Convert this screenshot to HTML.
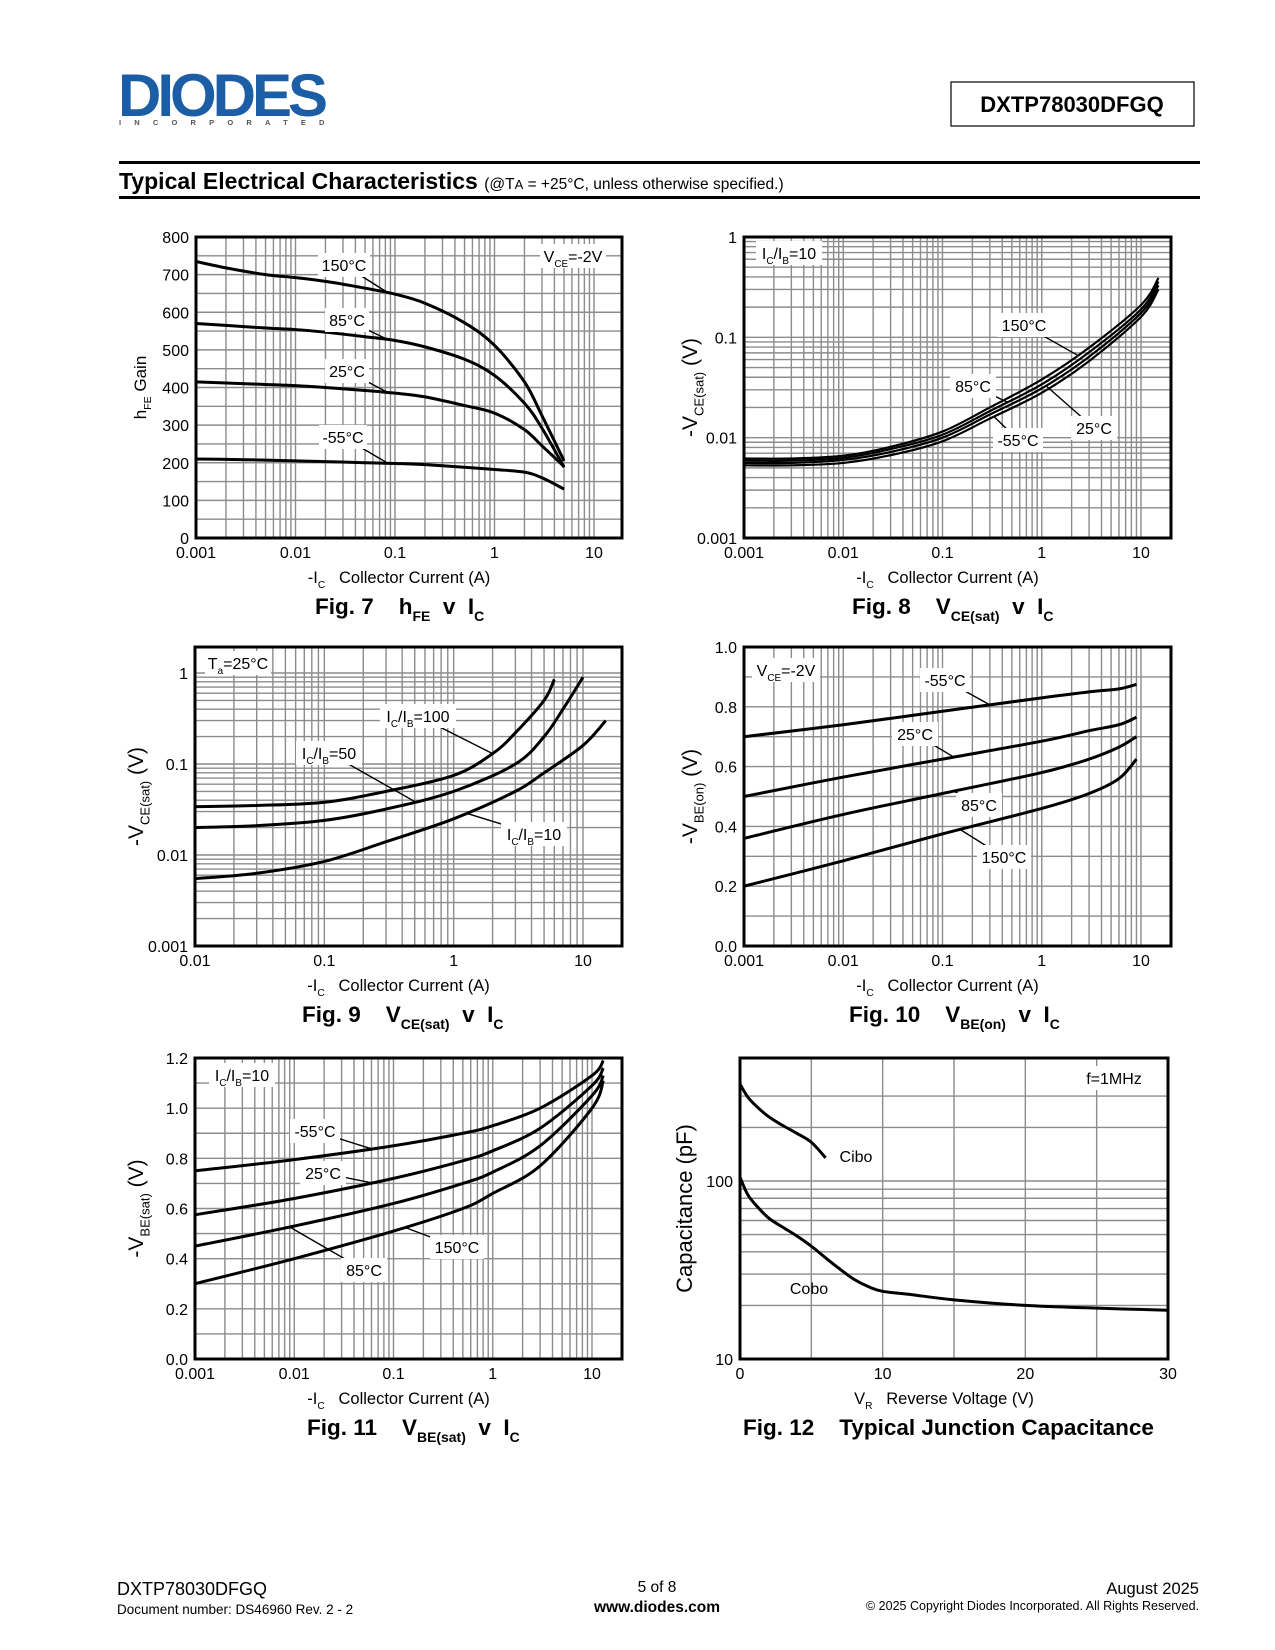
<!DOCTYPE html>
<html><head><meta charset="utf-8"><title>DXTP78030DFGQ Typical Electrical Characteristics</title>
<style>
html,body{margin:0;padding:0;background:#fff;}
svg{display:block;font-family:"Liberation Sans",Arial,sans-serif;}
text{white-space:pre;}
</style></head>
<body>
<svg id="page" width="1275" height="1650" viewBox="0 0 1275 1650" xmlns="http://www.w3.org/2000/svg">
  <g>
    <text x="118" y="116" font-size="60" font-weight="bold" fill="#1c5ea5" letter-spacing="-4">DIODES</text>
    <text x="119" y="125" font-size="7.5" font-weight="bold" fill="#555" letter-spacing="13.2">INCORPORATED</text>
    <rect x="951" y="82" width="243" height="44" fill="none" stroke="#000" stroke-width="1.2"/>
    <text x="1072" y="112" font-size="22" font-weight="bold" text-anchor="middle">DXTP78030DFGQ</text>
    <rect x="119" y="161" width="1081" height="3" fill="#000"/>
    <text x="119" y="189" font-size="23" font-weight="bold">Typical Electrical Characteristics <tspan font-size="15.5" font-weight="normal">(@T<tspan font-size="13">A</tspan> = +25°C, unless otherwise specified.)</tspan></text>
    <rect x="119" y="196" width="1081" height="3" fill="#000"/>
  </g>
  <g id="charts"></g>
  <g>
    <text x="117" y="1595" font-size="18">DXTP78030DFGQ</text>
    <text x="117" y="1614" font-size="13.5">Document number: DS46960 Rev. 2 - 2</text>
    <text x="657" y="1592" font-size="15.5" text-anchor="middle">5 of 8</text>
    <text x="657" y="1612" font-size="15.5" font-weight="bold" text-anchor="middle">www.diodes.com</text>
    <text x="1199" y="1594" font-size="16.5" text-anchor="end">August 2025</text>
    <text x="1199" y="1610" font-size="12.5" text-anchor="end">© 2025 Copyright Diodes Incorporated. All Rights Reserved.</text>
  </g>
</svg>
<script>
// ---------- Fig 7 data: hFE vs Ic ----------
const fig7X = [0.001,0.002,0.005,0.01,0.02,0.05,0.1,0.2,0.5,1,2,3,5];
const fig7Y150 = [735,718,700,692,682,664,648,624,572,512,415,325,205];
const fig7Y85 = [570,565,558,554,547,535,525,508,475,432,358,292,188];
const fig7Y25 = [415,412,408,405,400,392,385,375,352,332,288,245,190];
const fig7Yneg55 = [210,209,207,205,203,200,198,195,188,182,175,160,130];
const fig7YTicks = [0,100,200,300,400,500,600,700,800];
const fig7XTicks = [0.001,0.01,0.1,1,10];
const fig7XTickLabels = ["0.001","0.01","0.1","1","10"];
// ---------- Fig 8 data: VCE(sat) vs Ic at various temps ----------
const fig8X = [0.001,0.003,0.01,0.03,0.1,0.3,1,3,10,15];
const fig8Y150 = [0.0062,0.0062,0.0066,0.0081,0.0115,0.0200,0.038,0.079,0.21,0.39];
const fig8Y85 = [0.0059,0.0059,0.0063,0.0077,0.0107,0.0184,0.034,0.071,0.19,0.36];
const fig8Y25 = [0.0056,0.0056,0.0060,0.0072,0.0100,0.0170,0.031,0.064,0.175,0.33];
const fig8Yneg55 = [0.0053,0.0053,0.0056,0.0067,0.0092,0.0155,0.028,0.058,0.16,0.30];
const fig8YTicks = [0.001,0.01,0.1,1];
const fig8YTickLabels = ["0.001","0.01","0.1","1"];
const fig8XTicks = [0.001,0.01,0.1,1,10];
const fig8XTickLabels = ["0.001","0.01","0.1","1","10"];
// ---------- Fig 9 data: VCE(sat) vs Ic at various Ic/Ib ----------
const fig9X100 = [0.01,0.03,0.1,0.3,1,2,3,5,6];
const fig9Y100 = [0.034,0.035,0.038,0.050,0.075,0.13,0.22,0.50,0.85];
const fig9X50 = [0.01,0.03,0.1,0.3,1,3,5,7,10];
const fig9Y50 = [0.020,0.021,0.024,0.032,0.050,0.10,0.20,0.40,0.90];
const fig9X10 = [0.01,0.03,0.1,0.3,1,3,5,10,15];
const fig9Y10 = [0.0055,0.0063,0.0085,0.014,0.025,0.050,0.080,0.16,0.30];
const fig9YTicks = [0.001,0.01,0.1,1];
const fig9YTickLabels = ["0.001","0.01","0.1","1"];
const fig9XTicks = [0.01,0.1,1,10];
const fig9XTickLabels = ["0.01","0.1","1","10"];
// ---------- Fig 10 data: VBE(on) vs Ic ----------
const fig10X = [0.001,0.01,0.1,1,3,6,9];
const fig10Yneg55 = [0.70,0.74,0.785,0.83,0.85,0.86,0.875];
const fig10Y25 = [0.50,0.565,0.625,0.685,0.72,0.74,0.765];
const fig10Y85 = [0.36,0.44,0.51,0.58,0.625,0.665,0.70];
const fig10Y150 = [0.20,0.285,0.375,0.46,0.51,0.56,0.625];
const fig10YTicks = [0,0.2,0.4,0.6,0.8,1.0];
const fig10YTickLabels = ["0.0","0.2","0.4","0.6","0.8","1.0"];
const fig10XTicks = [0.001,0.01,0.1,1,10];
const fig10XTickLabels = ["0.001","0.01","0.1","1","10"];
// ---------- Fig 11 data: VBE(sat) vs Ic ----------
const fig11X = [0.001,0.01,0.1,0.5,1,3,10,13];
const fig11Yneg55 = [0.75,0.795,0.85,0.90,0.93,1.00,1.13,1.19];
const fig11Y25 = [0.575,0.64,0.72,0.79,0.83,0.92,1.09,1.16];
const fig11Y85 = [0.45,0.53,0.62,0.70,0.745,0.85,1.05,1.13];
const fig11Y150 = [0.30,0.40,0.51,0.60,0.66,0.77,1.00,1.11];
const fig11YTicks = [0,0.2,0.4,0.6,0.8,1.0,1.2];
const fig11YTickLabels = ["0.0","0.2","0.4","0.6","0.8","1.0","1.2"];
const fig11XTicks = [0.001,0.01,0.1,1,10];
const fig11XTickLabels = ["0.001","0.01","0.1","1","10"];
// ---------- Fig 12 data: capacitance vs VR ----------
const fig12CiboX = [0,0.5,1,2,3,4,5,6];
const fig12CiboY = [350,300,270,230,205,185,165,135];
const fig12CoboX = [0,0.5,1,2,3,4,5,6,7,8,9,10,12,15,20,25,30];
const fig12CoboY = [105,85,75,62,55,49,43,37,32,28,25.5,24,23,21.5,20,19.3,18.8];
const fig12YTicks = [10,100];
const fig12YTickLabels = ["10","100"];
const fig12XTicks = [0,10,20,30];
const fig12XTickLabels = ["0","10","20","30"];

const NS = "http://www.w3.org/2000/svg";
const root = document.getElementById('charts');
function mk(tag, attrs, parent){
  const e = document.createElementNS(NS, tag);
  for (const k in attrs) e.setAttribute(k, attrs[k]);
  (parent||root).appendChild(e);
  return e;
}
function logScale(d0,d1,p0,p1){const a=Math.log10(d0),b=Math.log10(d1);return v=>p0+(Math.log10(v)-a)/(b-a)*(p1-p0);}
function linScale(d0,d1,p0,p1){return v=>p0+(v-d0)/(d1-d0)*(p1-p0);}
function logGrid(lo,hi){const out=[];for(let n=-4;n<=3;n++){for(let k=1;k<10;k++){const v=k*Math.pow(10,n);if(v>=lo*0.999&&v<=hi*1.001)out.push(v);}}return out;}
function richText(parent, parts, x, y, size, attrs){
  const t = mk('text', Object.assign({x:x, y:y, 'font-size':size}, attrs||{}), parent);
  let sub=false;
  parts.forEach(p=>{
    const ts = mk('tspan', {}, t);
    if (p[1] && !sub){ts.setAttribute('dy', size*0.3); ts.setAttribute('font-size', size*0.62); sub=true;}
    else if (!p[1] && sub){ts.setAttribute('dy', -size*0.3); sub=false;}
    ts.textContent = p[0];
  });
  return t;
}
function smoothPath(pts){
  let d = 'M'+pts[0][0].toFixed(2)+','+pts[0][1].toFixed(2);
  for (let i=0;i<pts.length-1;i++){
    const p0=pts[Math.max(0,i-1)],p1=pts[i],p2=pts[i+1],p3=pts[Math.min(pts.length-1,i+2)];
    const c1=[p1[0]+(p2[0]-p0[0])/6,p1[1]+(p2[1]-p0[1])/6];
    const c2=[p2[0]-(p3[0]-p1[0])/6,p2[1]-(p3[1]-p1[1])/6];
    d+=' C'+c1[0].toFixed(2)+','+c1[1].toFixed(2)+' '+c2[0].toFixed(2)+','+c2[1].toFixed(2)+' '+p2[0].toFixed(2)+','+p2[1].toFixed(2);
  }
  return d;
}
function chart(c){
  const g = mk('g', {});
  
  
  const cid = c.name+'-clip';
  const cp = mk('clipPath', {id:cid}, g);
  mk('rect', {x:c.L, y:c.T, width:c.R-c.L, height:c.B-c.T}, cp);
  const grid = mk('g', {stroke:'#8c8c8c','stroke-width':1.4}, g);
  
  
  c.xgrid.forEach(v=>{const x=c.xs(v); if(x>c.L+1&&x<c.R-1) mk('line',{x1:x,x2:x,y1:c.T,y2:c.B},grid);});
  c.ygrid.forEach(v=>{const y=c.ys(v); if(y>c.T+1&&y<c.B-1) mk('line',{x1:c.L,x2:c.R,y1:y,y2:y},grid);});
  const sg = mk('g', {'clip-path':'url(#'+cid+')'}, g);
  const pix = [];
  c.series.forEach(s=>{
    const pts = s.x.map((xv,i)=>[c.xs(xv), c.ys(s.y[i])]);
    pix.push(pts);
    const p = mk('path', {d:smoothPath(pts), fill:'none', stroke:'#000', 'stroke-width':c.sw||3, 'stroke-linejoin':'round'}, sg);
    
    
  });
  c.labels.forEach(lb=>{
    const lg = mk('g', {}, g);
    
    
    if (lb.s !== undefined){
      const pts = pix[lb.s]; const tx = c.xs(lb.tx); let ty = pts[0][1];
      for (let i=0;i<pts.length-1;i++){ if (tx>=pts[i][0] && tx<=pts[i+1][0]){ const f=(tx-pts[i][0])/(pts[i+1][0]-pts[i][0]); ty=pts[i][1]+f*(pts[i+1][1]-pts[i][1]); } }
      mk('line', {x1:lb.cx, y1:lb.cy, x2:tx, y2:ty, stroke:'#000', 'stroke-width':1.4}, lg);
    }
    if (lb.w) mk('rect', {x:lb.cx-lb.w/2, y:lb.cy-12, width:lb.w, height:24, fill:'#fff'}, lg);
    richText(lg, lb.parts, lb.cx, lb.cy+6, 16, {'text-anchor':'middle'});
  });
  const fr = mk('rect', {x:c.L, y:c.T, width:c.R-c.L, height:c.B-c.T, fill:'none', stroke:'#000', 'stroke-width':3}, g);
  
  
  const yt = mk('g', {'font-size':16, 'text-anchor':'end'}, g);
  
  
  c.yticks.forEach((v,i)=>{ const t=mk('text',{x:c.L-7, y:c.ys(v)+6}, yt); t.textContent=c.ytl[i]; });
  const xt = mk('g', {'font-size':16, 'text-anchor':'middle'}, g);
  
  
  c.xticks.forEach((v,i)=>{ const t=mk('text',{x:c.xs(v), y:c.B+20}, xt); t.textContent=c.xtl[i]; });
  const ya = richText(g, c.ytitle, 0, 0, c.ytSize||17, {'text-anchor':'middle', transform:'translate('+c.ytx+','+((c.T+c.B)/2)+') rotate(-90)'});
  
  
  const xa = richText(g, c.xtitle, (c.L+c.R)/2-10, c.B+45, 16.5, {'text-anchor':'middle'});
  
  
  const cap = richText(g, c.caption, c.capX, c.B+76, 22.5, {'font-weight':'bold'});
  
  
}
const icTitle = [["-I",0],["C",1],["   Collector Current (A)",0]];

// Fig 7
(function(){
  const xs=logScale(0.001,10,196,594), ys=linScale(0,800,538,237);
  const yg=[]; for(let v=0;v<=800;v+=50) yg.push(v);
  chart({name:'fig7-hfe-chart',L:196,R:622,T:237,B:538,xs,ys,xgrid:logGrid(0.001,30),ygrid:yg,
    xticks:fig7XTicks,xtl:fig7XTickLabels,yticks:fig7YTicks,ytl:fig7YTicks.map(String),
    series:[{name:'hfe-150c',x:fig7X,y:fig7Y150},{name:'hfe-85c',x:fig7X,y:fig7Y85},{name:'hfe-25c',x:fig7X,y:fig7Y25},{name:'hfe-minus55c',x:fig7X,y:fig7Yneg55}],
    labels:[
      {name:'label-150c',parts:[["150°C",0]],cx:344,cy:265,w:52,s:0,tx:0.085},
      {name:'label-85c',parts:[["85°C",0]],cx:347,cy:320,w:44,s:1,tx:0.085},
      {name:'label-25c',parts:[["25°C",0]],cx:347,cy:371,w:44,s:2,tx:0.085},
      {name:'label-minus55c',parts:[["-55°C",0]],cx:343,cy:437,w:48,s:3,tx:0.085},
      {name:'label-vce',parts:[["V",0],["CE",1],["=-2V",0]],cx:573,cy:256,w:66}],
    ytitle:[["h",0],["FE",1],[" Gain",0]],ytx:146,xtitle:icTitle,
    caption:[["Fig. 7    h",0],["FE",1],["  v  I",0],["C",1]],capX:315});
})();
// Fig 8
(function(){
  const xs=logScale(0.001,10,744,1141), ys=logScale(0.001,1,538,237);
  chart({name:'fig8-vcesat-temp-chart',L:744,R:1171,T:237,B:538,xs,ys,xgrid:logGrid(0.001,30),ygrid:logGrid(0.001,1),sw:2.2,
    xticks:fig8XTicks,xtl:fig8XTickLabels,yticks:fig8YTicks,ytl:fig8YTickLabels,
    series:[{name:'vcesat-150c',x:fig8X,y:fig8Y150},{name:'vcesat-85c',x:fig8X,y:fig8Y85},{name:'vcesat-25c',x:fig8X,y:fig8Y25},{name:'vcesat-minus55c',x:fig8X,y:fig8Yneg55}],
    labels:[
      {name:'label-icib10',parts:[["I",0],["C",1],["/I",0],["B",1],["=10",0]],cx:789,cy:253,w:66},
      {name:'label-150c',parts:[["150°C",0]],cx:1024,cy:325,w:54,s:0,tx:2.3},
      {name:'label-85c',parts:[["85°C",0]],cx:973,cy:386,w:46,s:1,tx:0.45},
      {name:'label-25c',parts:[["25°C",0]],cx:1094,cy:428,w:46,s:2,tx:1.1},
      {name:'label-minus55c',parts:[["-55°C",0]],cx:1018,cy:440,w:50,s:3,tx:0.33}],
    ytitle:[["-V",0],["CE(sat)",1],[" (V)",0]],ytSize:21,ytx:697,xtitle:icTitle,
    caption:[["Fig. 8    V",0],["CE(sat)",1],["  v  I",0],["C",1]],capX:852});
})();
// Fig 9
(function(){
  const xs=logScale(0.01,10,195,583), ys=logScale(0.001,1,946,673);
  chart({name:'fig9-vcesat-ratio-chart',L:195,R:622,T:647,B:946,xs,ys,xgrid:logGrid(0.01,30),ygrid:logGrid(0.001,2),
    xticks:fig9XTicks,xtl:fig9XTickLabels,yticks:fig9YTicks,ytl:fig9YTickLabels,
    series:[{name:'vcesat-icib100',x:fig9X100,y:fig9Y100},{name:'vcesat-icib50',x:fig9X50,y:fig9Y50},{name:'vcesat-icib10',x:fig9X10,y:fig9Y10}],
    labels:[
      {name:'label-ta',parts:[["T",0],["a",1],["=25°C",0]],cx:238,cy:663,w:66},
      {name:'label-icib100',parts:[["I",0],["C",1],["/I",0],["B",1],["=100",0]],cx:418,cy:716,w:76,s:0,tx:2},
      {name:'label-icib50',parts:[["I",0],["C",1],["/I",0],["B",1],["=50",0]],cx:329,cy:753,w:66,s:1,tx:0.5},
      {name:'label-icib10',parts:[["I",0],["C",1],["/I",0],["B",1],["=10",0]],cx:534,cy:834,w:66,s:2,tx:1.25}],
    ytitle:[["-V",0],["CE(sat)",1],[" (V)",0]],ytSize:21,ytx:143,xtitle:icTitle,
    caption:[["Fig. 9    V",0],["CE(sat)",1],["  v  I",0],["C",1]],capX:302});
})();
// Fig 10
(function(){
  const xs=logScale(0.001,10,744,1141), ys=linScale(0,1,946,647);
  const yg=[]; for(let i=0;i<=10;i++) yg.push(i/10);
  chart({name:'fig10-vbeon-chart',L:744,R:1171,T:647,B:946,xs,ys,xgrid:logGrid(0.001,30),ygrid:yg,
    xticks:fig10XTicks,xtl:fig10XTickLabels,yticks:fig10YTicks,ytl:fig10YTickLabels,
    series:[{name:'vbeon-minus55c',x:fig10X,y:fig10Yneg55},{name:'vbeon-25c',x:fig10X,y:fig10Y25},{name:'vbeon-85c',x:fig10X,y:fig10Y85},{name:'vbeon-150c',x:fig10X,y:fig10Y150}],
    labels:[
      {name:'label-vce',parts:[["V",0],["CE",1],["=-2V",0]],cx:786,cy:670,w:68},
      {name:'label-minus55c',parts:[["-55°C",0]],cx:945,cy:680,w:50,s:0,tx:0.3},
      {name:'label-25c',parts:[["25°C",0]],cx:915,cy:734,w:46,s:1,tx:0.13},
      {name:'label-85c',parts:[["85°C",0]],cx:979,cy:805,w:46,s:2,tx:0.13},
      {name:'label-150c',parts:[["150°C",0]],cx:1004,cy:857,w:54,s:3,tx:0.15}],
    ytitle:[["-V",0],["BE(on)",1],[" (V)",0]],ytSize:21,ytx:697,xtitle:icTitle,
    caption:[["Fig. 10    V",0],["BE(on)",1],["  v  I",0],["C",1]],capX:849});
})();
// Fig 11
(function(){
  const xs=logScale(0.001,10,195,592), ys=linScale(0,1.2,1359,1058);
  const yg=[]; for(let i=0;i<=12;i++) yg.push(i/10);
  chart({name:'fig11-vbesat-chart',L:195,R:622,T:1058,B:1359,xs,ys,xgrid:logGrid(0.001,30),ygrid:yg,
    xticks:fig11XTicks,xtl:fig11XTickLabels,yticks:fig11YTicks,ytl:fig11YTickLabels,
    series:[{name:'vbesat-minus55c',x:fig11X,y:fig11Yneg55},{name:'vbesat-25c',x:fig11X,y:fig11Y25},{name:'vbesat-85c',x:fig11X,y:fig11Y85},{name:'vbesat-150c',x:fig11X,y:fig11Y150}],
    labels:[
      {name:'label-icib10',parts:[["I",0],["C",1],["/I",0],["B",1],["=10",0]],cx:242,cy:1075,w:66},
      {name:'label-minus55c',parts:[["-55°C",0]],cx:315,cy:1131,w:50,s:0,tx:0.06},
      {name:'label-25c',parts:[["25°C",0]],cx:323,cy:1173,w:46,s:1,tx:0.06},
      {name:'label-85c',parts:[["85°C",0]],cx:364,cy:1270,w:46,s:2,tx:0.009},
      {name:'label-150c',parts:[["150°C",0]],cx:457,cy:1247,w:54,s:3,tx:0.13}],
    ytitle:[["-V",0],["BE(sat)",1],[" (V)",0]],ytSize:21,ytx:143,xtitle:icTitle,
    caption:[["Fig. 11    V",0],["BE(sat)",1],["  v  I",0],["C",1]],capX:307});
})();
// Fig 12
(function(){
  const xs=linScale(0,30,740,1168), ys=logScale(10,100,1359,1181);
  const xg=[]; for(let v=0;v<=30;v+=5) xg.push(v);
  chart({name:'fig12-capacitance-chart',L:740,R:1168,T:1058,B:1359,xs,ys,xgrid:xg,ygrid:logGrid(10,300),
    xticks:fig12XTicks,xtl:fig12XTickLabels,yticks:fig12YTicks,ytl:fig12YTickLabels,
    series:[{name:'cibo-curve',x:fig12CiboX,y:fig12CiboY},{name:'cobo-curve',x:fig12CoboX,y:fig12CoboY}],
    labels:[
      {name:'label-freq',parts:[["f=1MHz",0]],cx:1114,cy:1078,w:64},
      {name:'label-cibo',parts:[["Cibo",0]],cx:856,cy:1156},
      {name:'label-cobo',parts:[["Cobo",0]],cx:809,cy:1288}],
    ytitle:[["Capacitance (pF)",0]],ytSize:22,ytx:692,xtitle:[["V",0],["R",1],["   Reverse Voltage (V)",0]],
    caption:[["Fig. 12    Typical Junction Capacitance",0]],capX:743});
})();
</script>
</body></html>
